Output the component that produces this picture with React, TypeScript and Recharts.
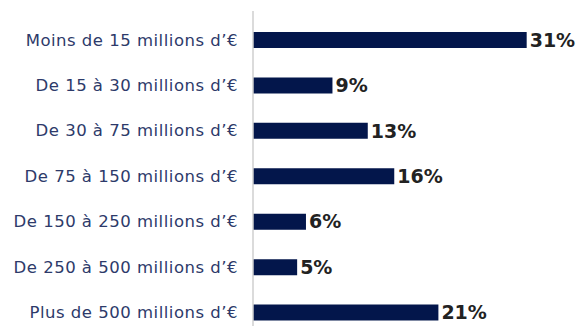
import React from 'react';
import { BarChart, Bar, XAxis, YAxis, LabelList } from 'recharts';

// Répartition par tranche de chiffre d'affaires
const categories = [
  'Moins de 15 millions d’€',
  'De 15 à 30 millions d’€',
  'De 30 à 75 millions d’€',
  'De 75 à 150 millions d’€',
  'De 150 à 250 millions d’€',
  'De 250 à 500 millions d’€',
  'Plus de 500 millions d’€',
];
const shares = [31, 9, 13, 16, 6, 5, 21];

const data = categories.map((name, i) => ({ name, value: shares[i] }));

const App: React.FC = () => {
  return (
    <div style={{ position: 'absolute', top: 0, left: 0, width: 578, height: 326, overflow: 'hidden', background: '#fff' }}>
      <BarChart
        layout="vertical"
        width={578}
        height={340}
        data={data}
        margin={{ top: 11, right: 16, bottom: 5, left: 0 }}
      >
        <XAxis type="number" domain={[0, 35]} hide />
        <YAxis
          type="category"
          dataKey="name"
          width={253}
          axisLine={{ stroke: '#cfcfcf', strokeWidth: 1.5 }}
          tickLine={false}
          tickSize={0}
          tickMargin={15}
          padding={{ top: 6, bottom: 0 }}
          tick={{ fill: '#2d3a6a', fontSize: 16.5, fontFamily: 'DejaVu Sans, sans-serif', letterSpacing: 0.5 }}
        />
        <Bar dataKey="value" fill="#03164b" barSize={16} isAnimationActive={false}>
          <LabelList
            dataKey="value"
            position="right"
            offset={3}
            formatter={(v: number) => `${v}%`}
            fill="#222"
            fontSize={19}
            fontWeight={700}
            fontFamily="DejaVu Sans, sans-serif"
          />
        </Bar>
      </BarChart>
    </div>
  );
};

export default App;
